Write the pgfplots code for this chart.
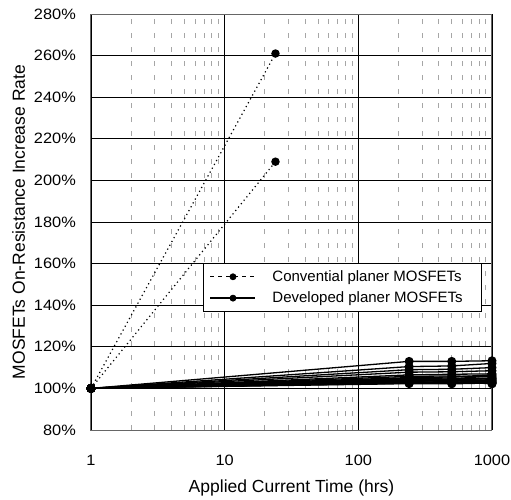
\documentclass[border=0pt]{standalone}
\usepackage{pgfplots}
\pgfplotsset{compat=1.18}
\usepackage{pgfplotstable}
\usepackage{fontspec}
\setmainfont{Liberation Sans}
\newfontfamily\tickfont[FakeStretch=1.09]{Liberation Sans}

\pgfplotstableread{
t    s1    s2    s3    s4    s5    s6    s7    s8    s9    s10   s11   s12   s13   s14   s15   s16   s17   s18   s19   s20
1    100   100   100   100   100   100   100   100   100   100   100   100   100   100   100   100   100   100   100   100
240  113.0 110.5 109.0 107.8 106.5 105.8 105.2 104.8 104.5 104.0 103.8 103.5 103.2 103.0 102.7 102.5 102.3 104.2 103.6 102.9
500  113.0 110.8 109.2 108.0 106.8 106.0 105.5 105.0 104.2 104.3 103.5 103.8 103.0 102.8 102.5 102.7 102.2 104.6 104.0 103.3
1000 113.3 112.0 110.0 108.5 107.0 105.5 106.5 104.5 105.0 103.8 104.2 103.2 103.6 102.8 103.0 102.4 102.6 106.0 104.8 102.2
}\devdata

\pgfplotstableread{
t   a    b
1   100  100
24  261  209
}\convdata

\begin{document}
\begin{tikzpicture}
\begin{axis}[
  at={(0pt,0pt)}, anchor=south west,
  scale only axis,
  width=401pt, height=416pt,
  xmode=log,
  xmin=1, xmax=1000,
  ymin=80, ymax=280,
  xtick={1,10,100,1000},
  xticklabels={1,10,100,1000},
  minor xtick={2,3,4,5,6,7,8,9,20,30,40,50,60,70,80,90,200,300,400,500,600,700,800,900},
  ytick={80,100,...,280},
  yticklabel={\pgfmathprintnumber{\tick}\%},
  /pgf/number format/assume math mode=true,
  major tick length=0pt, minor tick length=0pt,
  xmajorgrids, ymajorgrids, xminorgrids,
  major grid style={black, line width=0.8pt},
  minor grid style={gray!70, line width=0.8pt, dash pattern=on 5pt off 9pt},
  axis line style={gray!80!black, line width=1pt},
  tick label style={font=\fontsize{15}{18}\tickfont, inner sep=0pt},
  yticklabel style={anchor=east, xshift=-15pt},
  xticklabel style={anchor=base, yshift=-35pt},
  xlabel={Applied Current Time (hrs)},
  ylabel={MOSFETs On-Resistance Increase Rate},
  xlabel style={font=\fontsize{17.5}{20}\selectfont, at={(axis description cs:0.5,-0.1514)}, anchor=base, inner sep=0pt},
  ylabel style={font=\fontsize{17.5}{20}\selectfont, at={(axis description cs:-0.1646,0.5)}, anchor=base, inner sep=0pt},
  legend style={at={(0.975,0.401)}, anchor=north east, draw=black, line width=0.8pt,
    font=\fontsize{15}{18}\selectfont, row sep=5pt, inner xsep=6pt, inner ysep=5pt,
    cells={anchor=west}},
  legend cell align=left,
]
\addlegendimage{legend image code/.code={
    \draw[black, line width=1pt, dash pattern=on 4pt off 4pt] (0pt,0pt) -- (45pt,0pt);
    \fill[black] (22.5pt,0pt) circle (3pt);
    \pgfpathmoveto{\pgfqpoint{60pt}{0pt}}\pgfusepath{}
  }}
\addlegendentry{Convential planer MOSFETs\rule{11pt}{0pt}}
\addlegendimage{legend image code/.code={
    \draw[black, line width=1.3pt, solid] (0pt,0pt) -- (45pt,0pt);
    \fill[black] (22.5pt,0pt) circle (3pt);
    \pgfpathmoveto{\pgfqpoint{60pt}{0pt}}\pgfusepath{}
  }}
\addlegendentry{Developed planer MOSFETs\rule{11pt}{0pt}}

\addplot[forget plot, black, line width=1.2pt, dash pattern=on 1.2pt off 3.2pt,
  mark=*, mark size=3.6pt, mark options={solid}] table[x=t,y=a]{\convdata};
\addplot[forget plot, black, line width=1.2pt, dash pattern=on 1.2pt off 3.2pt,
  mark=*, mark size=3.6pt, mark options={solid}] table[x=t,y=b]{\convdata};

\pgfplotsinvokeforeach{1,...,20}{
  \addplot[forget plot, black, line width=1.3pt, mark=*, mark size=3.8pt] table[x=t,y=s#1]{\devdata};
}
\end{axis}
\path (-91pt,-69pt) rectangle (420pt,430pt);
\end{tikzpicture}
\end{document}
